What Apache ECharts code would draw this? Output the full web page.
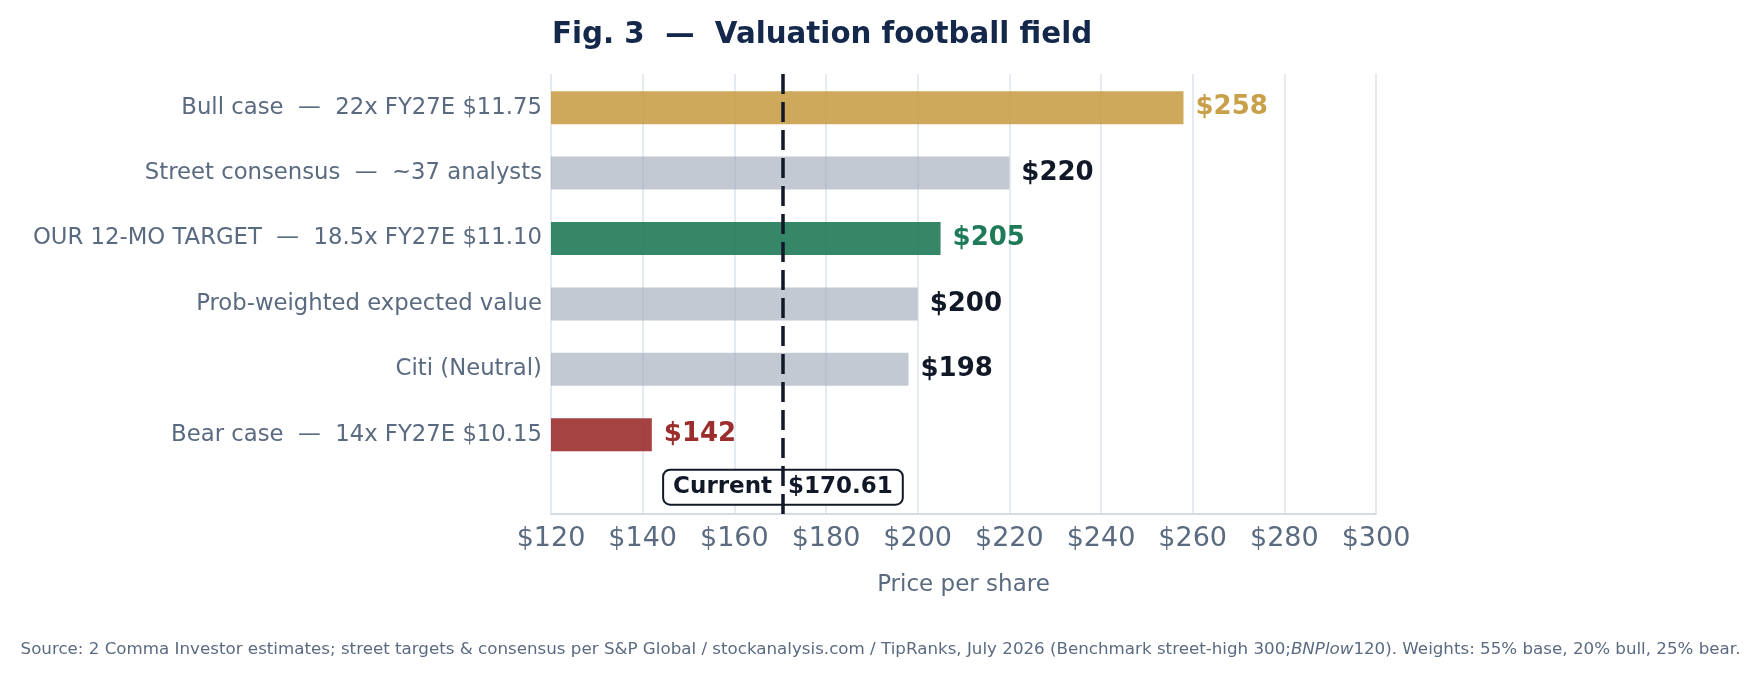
<!DOCTYPE html>
<html>
<head>
<meta charset="utf-8">
<script src="https://cdn.jsdelivr.net/npm/echarts@6/dist/echarts.min.js"></script>
<style>
  html, body { margin: 0; padding: 0; background: #fff; }
  #chart { width: 1761px; height: 681px; }
</style>
</head>
<body>
<div id="chart"></div>
<script>
// valuation football field
const categories = [
  'Bull case  \u2014  22x FY27E $11.75',
  'Street consensus  \u2014  ~37 analysts',
  'OUR 12-MO TARGET  \u2014  18.5x FY27E $11.10',
  'Prob-weighted expected value',
  'Citi (Neutral)',
  'Bear case  \u2014  14x FY27E $10.15'
];
const values = [258, 220, 205, 200, 198, 142];
const barColors = ['rgba(201,160,74,0.9)', 'rgba(154,165,180,0.6)', 'rgba(31,122,87,0.9)',
                   'rgba(154,165,180,0.6)', 'rgba(154,165,180,0.6)', 'rgba(155,45,45,0.9)'];
const labelColors = ['#c9a04a', '#111827', '#1f7a57', '#111827', '#111827', '#9b2d2d'];
const currentPrice = 170.61;
const xTicks = [120, 140, 160, 180, 200, 220, 240, 260, 280, 300];

const FONT = '"DejaVu Sans", sans-serif';
const SLATE = '#5a6a80';

const chart = echarts.init(document.getElementById('chart'), null, { renderer: 'canvas' });

const option = {
  animation: false,
  backgroundColor: '#ffffff',
  title: {
    text: 'Fig. 3  \u2014  Valuation football field',
    left: 547, top: 16,
    textStyle: { fontFamily: FONT, fontSize: 29.3, fontWeight: 'bold', color: '#13284b' }
  },
  grid: [
    { left: 551, right: 385, top: 74, bottom: 167 },
    { left: 551, right: 385, top: 75, height: 392.4 }
  ],
  xAxis: [
    {
      gridIndex: 0, type: 'value', min: xTicks[0], max: xTicks[xTicks.length - 1], interval: 20,
      axisLine: { show: true, onZero: false, lineStyle: { color: '#d5dbe5', width: 2 } },
      axisTick: { show: false },
      splitLine: { show: true, lineStyle: { color: '#dde3ec', width: 1.5 } },
      axisLabel: { fontFamily: FONT, fontSize: 27, color: SLATE, margin: 11, formatter: v => '$' + v },
      name: 'Price per share', nameLocation: 'middle', nameGap: 60,
      nameTextStyle: { fontFamily: FONT, fontSize: 23, color: SLATE }
    },
    {
      gridIndex: 1, type: 'value', min: xTicks[0], max: xTicks[xTicks.length - 1], interval: 20,
      show: false
    }
  ],
  yAxis: [
    { gridIndex: 0, type: 'value', min: -1.23, max: 5.5, show: false },
    {
      gridIndex: 1, type: 'category', inverse: true, data: categories,
      axisLine: { show: false }, axisTick: { show: false },
      axisLabel: { fontFamily: FONT, fontSize: 22.75, color: SLATE, margin: 9, padding: [5, 0, 0, 0] }
    }
  ],
  series: [
    {
      type: 'bar', xAxisIndex: 1, yAxisIndex: 1, barWidth: 33, z: 2,
      data: values.map((v, i) => ({
        value: v,
        itemStyle: { color: barColors[i] },
        label: { color: labelColors[i] }
      })),
      label: {
        show: true, position: 'right', distance: 12,
        fontFamily: FONT, fontSize: 26, fontWeight: 'bold', padding: [4, 0, 0, 0],
        formatter: p => '$' + p.value
      }
    },
    {
      type: 'scatter', xAxisIndex: 0, yAxisIndex: 0, z: 3,
      symbolSize: 0, itemStyle: { opacity: 1 },
      data: [[currentPrice, -0.82]],
      label: {
        show: true, position: 'inside',
        formatter: () => 'Current  $' + currentPrice.toFixed(2),
        fontFamily: FONT, fontSize: 23, fontWeight: 'bold', color: '#111827',
        backgroundColor: '#ffffff', borderColor: '#111827', borderWidth: 2, borderRadius: 6,
        padding: [6, 9, 4, 9]
      }
    },
    {
      type: 'line', xAxisIndex: 0, yAxisIndex: 0, z: 5, data: [],
      markLine: {
        silent: true, symbol: ['none', 'none'],
        label: { show: false },
        lineStyle: { color: '#111827', width: 3.5, type: [20, 8] },
        data: [{ xAxis: currentPrice }]
      }
    }
  ],
  graphic: [
    {
      type: 'text', left: 'center', top: 641,
      style: {
        text: 'Source: 2 Comma Investor estimates; street targets & consensus per S&P Global / stockanalysis.com / TipRanks, July 2026 (Benchmark street-high 300;{i|BNPlow}120). Weights: 55% base, 20% bull, 25% bear.',
        fontFamily: FONT, fontSize: 16.7, fill: SLATE,
        rich: { i: { fontFamily: FONT, fontSize: 16.7, fontStyle: 'italic', color: SLATE } }
      }
    }
  ]
};

chart.setOption(option);
</script>
</body>
</html>
